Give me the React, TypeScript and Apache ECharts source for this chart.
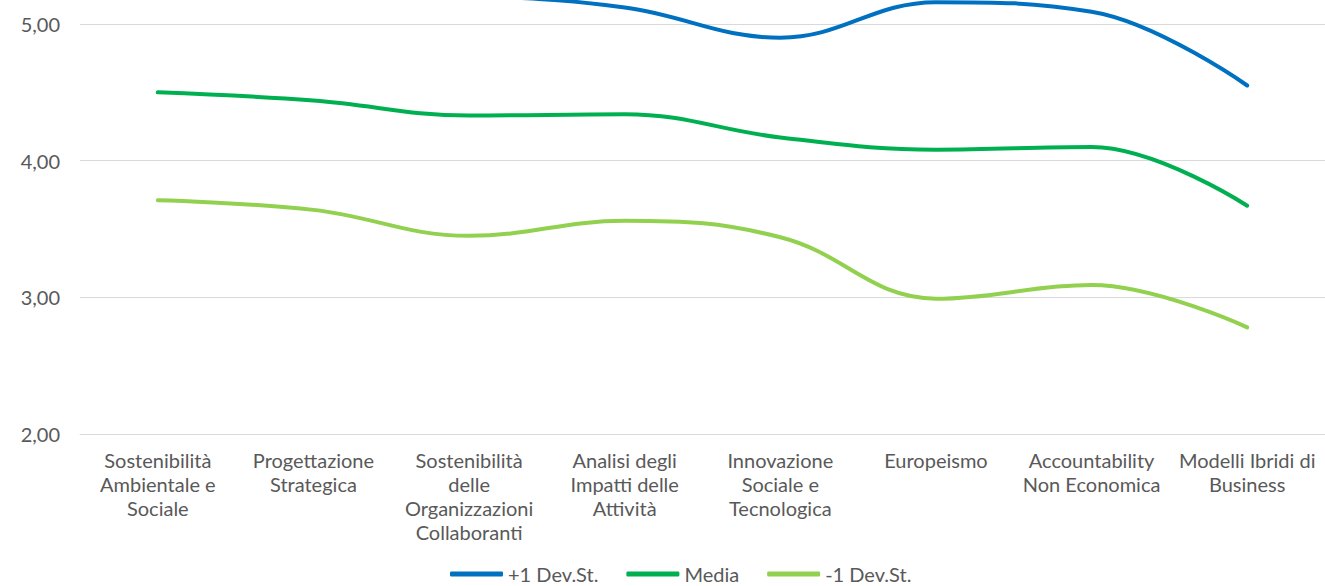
import React, { useEffect, useRef } from "react";
import * as echarts from "echarts";

const categories = [
  "Sostenibilità\nAmbientale e\nSociale",
  "Progettazione\nStrategica",
  "Sostenibilità\ndelle\nOrganizzazioni\nCollaboranti",
  "Analisi degli\nImpatti delle\nAttività",
  "Innovazione\nSociale e\nTecnologica",
  "Europeismo",
  "Accountability\nNon Economica",
  "Modelli Ibridi di\nBusiness",
];

const plusOneSD = [5.29, 5.24, 5.21, 5.12, 4.9, 5.16, 5.09, 4.55];
const media = [4.5, 4.44, 4.33, 4.34, 4.17, 4.08, 4.1, 3.67];
const minusOneSD = [3.71, 3.64, 3.45, 3.56, 3.44, 2.99, 3.09, 2.78];

const yMin = 2;
const yMax = 5.1756;
const yStep = 1;

const seriesNames = ["+1 Dev.St.", "Media", "-1 Dev.St."];
const colors = ["#0070C0", "#00B050", "#92D050"];

const FONT = "Lato, 'Noto Sans', sans-serif";

export default function App() {
  const ref = useRef<HTMLDivElement>(null);

  useEffect(() => {
    if (!ref.current) return;
    const chart = echarts.init(ref.current, null, { renderer: "svg" });
    const data = [plusOneSD, media, minusOneSD];
    chart.setOption({
      animation: false,
      textStyle: { fontFamily: FONT },
      grid: { left: 80, right: -5, top: 0, bottom: 152, containLabel: false },
      legend: {
        top: 564,
        left: 450,
        padding: 0,
        itemWidth: 53,
        itemHeight: 5,
        itemGap: 28,
        icon: "roundRect",
        textStyle: { color: "#595959", fontSize: 20, fontFamily: FONT, padding: [0, 0, 0, 0] },
        data: seriesNames,
      },
      xAxis: {
        type: "category",
        data: categories,
        boundaryGap: true,
        axisLine: { show: true, lineStyle: { color: "#D9D9D9", width: 1 } },
        axisTick: { show: false },
        axisLabel: {
          interval: 0,
          color: "#595959",
          fontSize: 20,
          lineHeight: 24,
          margin: 14,
          fontFamily: FONT,
        },
      },
      yAxis: {
        type: "value",
        min: yMin,
        max: yMax,
        interval: yStep,
        axisLine: { show: false },
        axisTick: { show: false },
        splitLine: { showMaxLine: false, lineStyle: { color: "#D9D9D9", width: 1 } },
        axisLabel: {
          showMaxLabel: false,
          color: "#595959",
          fontSize: 20,
          margin: 20,
          fontFamily: FONT,
          formatter: (v: number) => v.toFixed(2).replace(".", ","),
        },
      },
      series: seriesNames.map((name, i) => ({
        name,
        type: "line",
        data: data[i],
        smooth: 0.4,
        symbol: "none",
        lineStyle: { color: colors[i], width: 4, cap: "round" },
        itemStyle: { color: colors[i] },
      })),
    });
    return () => chart.dispose();
  }, []);

  return (
    <div
      ref={ref}
      style={{ position: "fixed", left: 0, top: 0, width: 1325, height: 586, background: "#fff" }}
    />
  );
}
